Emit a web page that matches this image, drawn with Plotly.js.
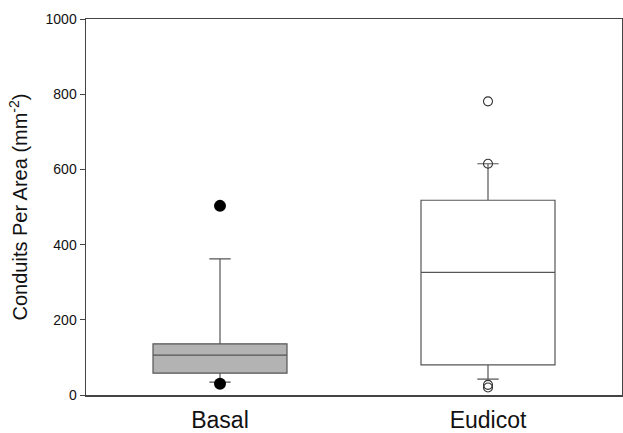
<!DOCTYPE html>
<html>
<head>
<meta charset="utf-8">
<script src="https://cdn.plot.ly/plotly-3.0.1.min.js"></script>
<style>html,body{margin:0;padding:0;background:#fff;}#chart{width:623px;height:433px;}</style>
</head>
<body>
<div id="chart"></div>
<script>
// Categories and summary statistics
const categories = ["Basal", "Eudicot"];
const q1Values = [58, 80];
const medianValues = [106, 326];
const q3Values = [136, 518];
const lowerWhisker = [34, 42];
const upperWhisker = [362, 615];
const basalOutliers = [503, 30];
const eudicotOutliers = [781, 615, 27, 20];
const yTicks = [0, 200, 400, 600, 800, 1000];

function makeBox(i, fill) {
  return {
    type: "box",
    name: categories[i],
    x: [categories[i]],
    q1: [q1Values[i]], median: [medianValues[i]], q3: [q3Values[i]],
    lowerfence: [lowerWhisker[i]], upperfence: [upperWhisker[i]],
    width: 0.5,
    fillcolor: fill,
    line: {color: "#555555", width: 1.2},
    whiskerwidth: 0.16,
    boxpoints: false,
    hoverinfo: "skip"
  };
}
const boxBasal = makeBox(0, "#b3b3b3");
const boxEudicot = makeBox(1, "#ffffff");
const outBasal = {
  type: "scatter", mode: "markers",
  x: basalOutliers.map(() => categories[0]),
  y: basalOutliers,
  marker: {symbol: "circle", size: 12, color: "#000000"},
  hoverinfo: "skip"
};
const outEudicot = {
  type: "scatter", mode: "markers",
  x: eudicotOutliers.map(() => categories[1]),
  y: eudicotOutliers,
  marker: {symbol: "circle-open", size: 9, color: "#333333", line: {width: 1.1}},
  hoverinfo: "skip"
};

const layout = {
  width: 623, height: 433,
  margin: {l: 86, r: 1, t: 19, b: 38},
  paper_bgcolor: "#ffffff", plot_bgcolor: "#ffffff",
  showlegend: false,
  font: {family: "Liberation Sans, Arial, sans-serif", color: "#111111"},
  xaxis: {
    type: "category",
    categoryarray: categories,
    range: [-0.5, 1.5],
    showline: true, mirror: true, linecolor: "#444444", linewidth: 1.5,
    ticks: "", showgrid: false, zeroline: false,
    tickfont: {size: 23, color: "#111111"},
    ticklabelstandoff: 4
  },
  yaxis: {
    range: [0, 1000],
    tickvals: yTicks,
    ticktext: yTicks.map(String),
    showline: true, mirror: true, linecolor: "#444444", linewidth: 1.5,
    ticks: "outside", ticklen: 5, tickcolor: "#444444", tickwidth: 1,
    showgrid: false, zeroline: false,
    tickfont: {size: 14, color: "#111111"},
    title: {text: "Conduits Per Area (mm<sup>-2</sup>)", font: {size: 20, color: "#111111"}, standoff: 12}
  }
};

Plotly.newPlot("chart", [boxBasal, boxEudicot, outBasal, outEudicot], layout, {displayModeBar: false, staticPlot: true});
</script>
</body>
</html>
